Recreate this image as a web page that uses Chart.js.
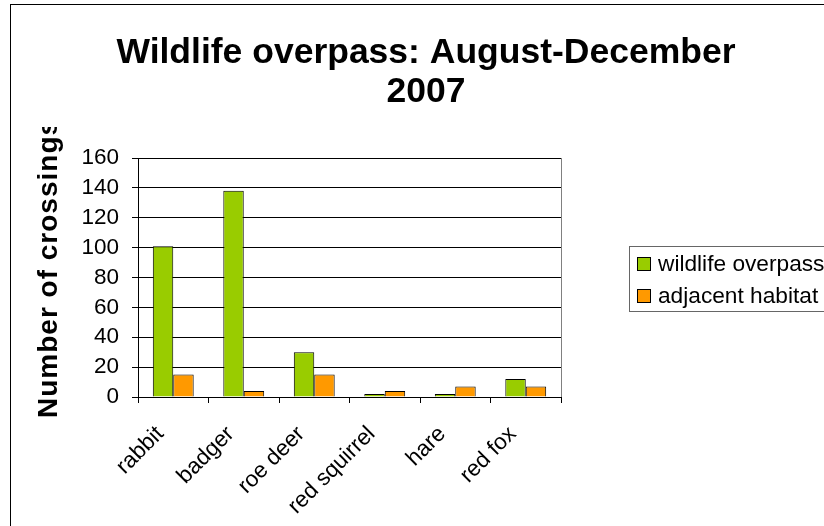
<!DOCTYPE html>
<html>
<head>
<meta charset="utf-8">
<script src="https://cdn.jsdelivr.net/npm/chart.js@4/dist/chart.umd.min.js"></script>
<style>
  html, body { margin: 0; padding: 0; background: #fff; overflow: hidden; }
  #wrap { width: 824px; height: 526px; position: relative; }
</style>
</head>
<body>
<div id="wrap"><canvas id="c" width="824" height="526"></canvas></div>
<script>
// Chart text
const titleLines = ['Wildlife overpass: August-December', '2007'];
const yAxisTitle = 'Number of crossings';

// Species counted at each crossing site
const categories = ['rabbit', 'badger', 'roe deer', 'red squirrel', 'hare', 'red fox'];
const seriesNames = ['wildlife overpass', 'adjacent habitat'];
const overpassCounts = [101, 138, 30, 2, 2, 12];
const habitatCounts = [15, 4, 15, 4, 7, 7];

// Value axis ticks
const yTicks = [0, 20, 40, 60, 80, 100, 120, 140, 160];

const seriesColors = ['#99CC00', '#FF9900'];
const FONT = '"Liberation Sans", Arial, sans-serif';

// Plot rectangle in canvas pixels
const PLOT = { left: 138, top: 158, right: 561, bottom: 397 };

const decorations = {
  id: 'decorations',
  beforeDraw(chart) {
    const ctx = chart.ctx;
    ctx.save();
    ctx.fillStyle = '#fff';
    ctx.fillRect(0, 0, chart.width, chart.height);
    // outer frame of the chart object
    ctx.strokeStyle = '#000';
    ctx.lineWidth = 1;
    ctx.strokeRect(10.5, 4.5, 1000, 1000);
    ctx.restore();
  },
  afterDraw(chart) {
    const ctx = chart.ctx;
    const area = chart.chartArea;
    ctx.save();

    // right edge of the plot area
    ctx.strokeStyle = '#808080';
    ctx.lineWidth = 1;
    ctx.beginPath();
    ctx.moveTo(Math.round(area.right) + 0.5, area.top);
    ctx.lineTo(Math.round(area.right) + 0.5, area.bottom);
    ctx.stroke();

    // title
    ctx.fillStyle = '#000';
    ctx.font = 'bold 35.5px ' + FONT;
    ctx.textAlign = 'center';
    ctx.textBaseline = 'alphabetic';
    ctx.fillText(titleLines[0], 426, 63);
    ctx.fillText(titleLines[1], 426, 102);

    // value axis title, cut off along the top
    ctx.save();
    ctx.beginPath();
    ctx.rect(0, 127, 130, 400);
    ctx.clip();
    ctx.translate(57, 418);
    ctx.rotate(-Math.PI / 2);
    ctx.font = 'bold 28px ' + FONT;
    if ('letterSpacing' in ctx) ctx.letterSpacing = '1px';
    ctx.textAlign = 'left';
    ctx.textBaseline = 'alphabetic';
    ctx.fillText(yAxisTitle, 0, 0);
    ctx.restore();

    // legend
    const lx = 629, ly = 246, lh = 65;
    ctx.strokeStyle = '#666';
    ctx.lineWidth = 1;
    ctx.strokeRect(lx + 0.5, ly + 0.5, 400, lh);
    ctx.font = '22.7px ' + FONT;
    ctx.textAlign = 'left';
    ctx.textBaseline = 'middle';
    seriesNames.forEach((name, i) => {
      const sy = 257 + i * 32;
      ctx.fillStyle = seriesColors[i];
      ctx.fillRect(637, sy, 14, 14);
      ctx.strokeStyle = '#000';
      ctx.strokeRect(637.5, sy + 0.5, 13, 13);
      ctx.fillStyle = '#000';
      ctx.fillText(name, 658, sy + 8);
    });

    ctx.restore();
  }
};

new Chart(document.getElementById('c'), {
  type: 'bar',
  data: {
    labels: categories,
    datasets: [
      {
        label: seriesNames[0],
        data: overpassCounts,
        backgroundColor: seriesColors[0],
        borderColor: '#000',
        borderWidth: 1,
        categoryPercentage: 0.58,
        barPercentage: 1.0
      },
      {
        label: seriesNames[1],
        data: habitatCounts,
        backgroundColor: seriesColors[1],
        borderColor: '#000',
        borderWidth: 1,
        categoryPercentage: 0.58,
        barPercentage: 1.0
      }
    ]
  },
  options: {
    responsive: false,
    animation: false,
    devicePixelRatio: 1,
    layout: {
      padding: { left: 0, top: PLOT.top, right: 824 - PLOT.right, bottom: 0 }
    },
    plugins: {
      legend: { display: false },
      title: { display: false },
      tooltip: { enabled: false }
    },
    scales: {
      x: {
        offset: true,
        grid: {
          display: true,
          offset: true,
          drawOnChartArea: false,
          drawTicks: true,
          tickLength: 6,
          color: '#000'
        },
        border: { display: true, color: '#000', width: 1 },
        ticks: {
          color: '#000',
          font: { family: FONT, size: 22.5 },
          minRotation: 45,
          maxRotation: 45,
          autoSkip: false,
          padding: 18,
          labelOffset: -13
        },
        afterFit(scale) { scale.height = 526 - PLOT.bottom; }
      },
      y: {
        min: yTicks[0],
        max: yTicks[yTicks.length - 1],
        afterBuildTicks(scale) { scale.ticks = yTicks.map(v => ({ value: v })); },
        grid: {
          color: '#000',
          lineWidth: 1,
          drawTicks: true,
          tickLength: 6
        },
        border: { display: true, color: '#000', width: 1 },
        ticks: {
          color: '#000',
          font: { family: FONT, size: 22.5 },
          autoSkip: false,
          padding: 13
        },
        afterFit(scale) { scale.width = PLOT.left; }
      }
    }
  },
  plugins: [decorations]
});
</script>
</body>
</html>
